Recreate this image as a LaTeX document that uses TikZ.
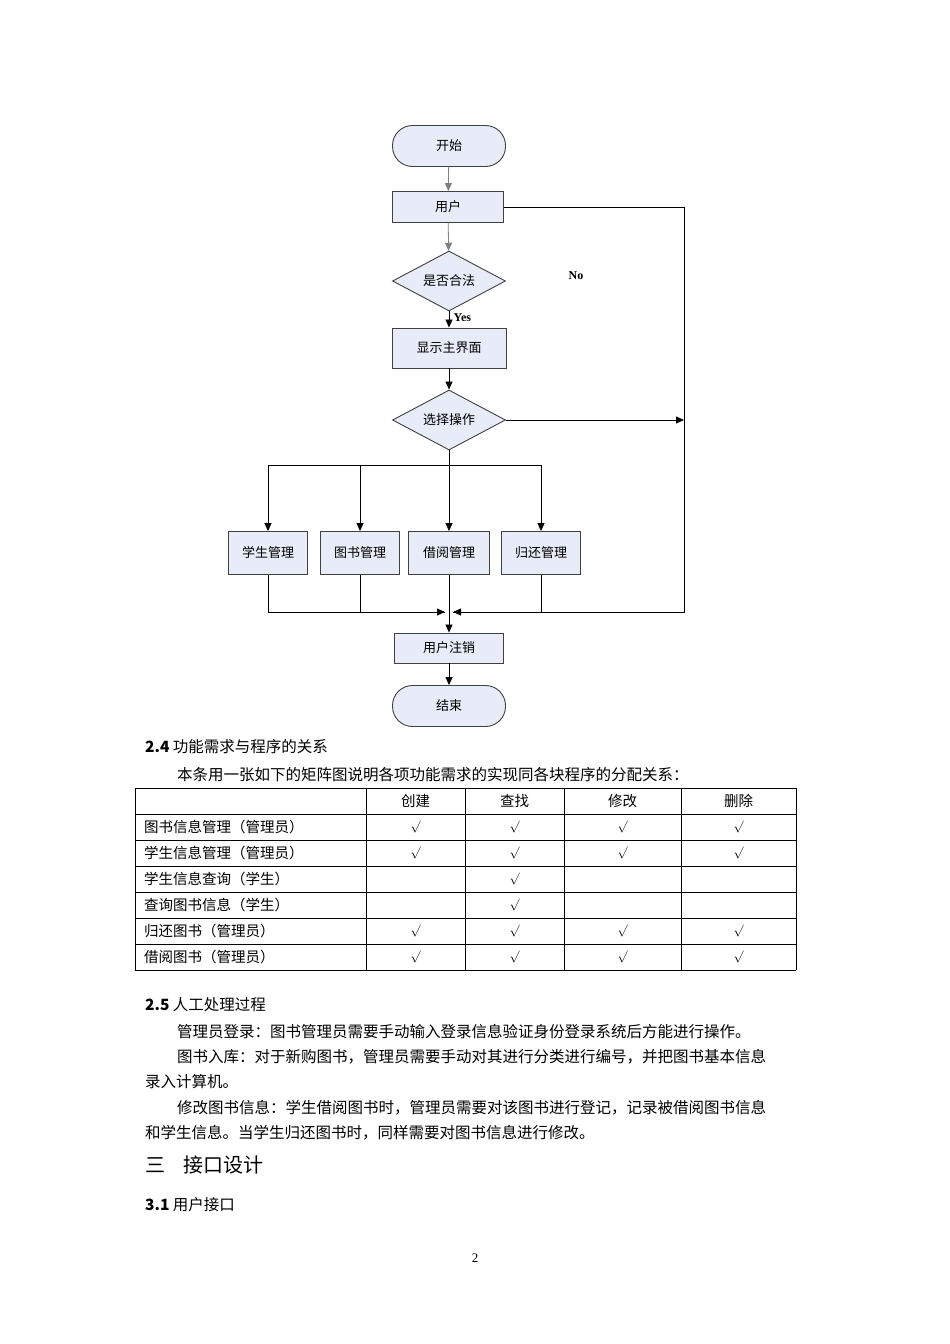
\documentclass[tikz,border=0pt]{standalone}
\usepackage{fontspec}
\setmainfont{Liberation Serif}
\newfontfamily\cjk{Noto Sans CJK SC}
\usetikzlibrary{shapes.geometric,arrows.meta}
\definecolor{boxfill}{HTML}{E8ECF8}
\definecolor{boxline}{HTML}{404040}
\tikzset{
 x=1pt,y=-1pt,
 fc/.style={draw=boxline,fill=boxfill,line width=0.9pt,font=\cjk\fontsize{13}{13}\selectfont,inner sep=0pt},
 term/.style={fc,rounded corners=20pt,minimum width=113pt,minimum height=41pt},
 proc/.style={fc,rectangle},
 dec/.style={fc,diamond,aspect=1.9,minimum width=113pt,minimum height=60pt},
 arr/.style={-{Triangle[length=8pt,width=7pt]},line width=0.8pt},
 ln/.style={line width=0.8pt},
 body/.style={font=\cjk\fontsize{15.5}{15.5}\selectfont,anchor=west,inner sep=0pt},
 cell/.style={font=\cjk\fontsize{14.5}{14.5}\selectfont,inner sep=0pt},
}
\begin{document}
\begin{tikzpicture}
\useasboundingbox (0,0) rectangle (950,1344);
% flowchart
\node[term] (start) at (449,146) {开始};
\node[proc,minimum width=111pt,minimum height=31pt] (user) at (448,207) {用户};
\node[dec] (legal) at (449,281) {是否合法};
\node[proc,minimum width=114pt,minimum height=40pt] (main) at (449,348) {显示主界面};
\node[dec] (sel) at (449,420) {选择操作};
\node[proc,minimum width=79pt,minimum height=43pt] (s1) at (268,553) {学生管理};
\node[proc,minimum width=79pt,minimum height=43pt] (s2) at (360,553) {图书管理};
\node[proc,minimum width=81pt,minimum height=43pt] (s3) at (449,553) {借阅管理};
\node[proc,minimum width=79pt,minimum height=43pt] (s4) at (541,553) {归还管理};
\node[proc,minimum width=109pt,minimum height=30pt] (logout) at (449,648) {用户注销};
\node[term] (end) at (449,706) {结束};
\coordinate (rt) at (684,207);
\coordinate (rs) at (684,420);
\coordinate (rb) at (684,612);
\coordinate (jn) at (449,612);
\coordinate (br) at (449,465);

\draw[arr,draw=gray] (start) -- (user);
\draw[arr,draw=gray] (user) -- (legal);
\draw[arr] (legal) -- (main) node[pos=0.4,right=1pt,font=\bfseries\fontsize{12}{12}\selectfont]{Yes};
\draw[arr] (main) -- (sel);
\draw[ln] (user.east) -- (rt) -- (rb) -- ([xshift=4pt]jn);
\draw[arr] ([xshift=14pt]jn) -- ([xshift=4pt]jn);
\draw[arr] (sel.east) -- (rs);
\node[font=\bfseries\fontsize{12}{12}\selectfont] at (576,276) {No};
\draw[ln] (sel.south) -- (br);
\draw[ln] (s1.north |- br) -- (s4.north |- br);
\draw[arr] (s1.north |- br) -- (s1.north);
\draw[arr] (s2.north |- br) -- (s2.north);
\draw[arr] (br) -- (s3.north);
\draw[arr] (s4.north |- br) -- (s4.north);
\draw[ln] (s1.south) -- (s1.south |- jn) -- ([xshift=-4pt]jn);
\draw[arr] ([xshift=-14pt]jn) -- ([xshift=-4pt]jn);
\draw[ln] (s2.south) -- (s2.south |- jn);
\draw[ln] (s4.south) -- (s4.south |- jn);
\draw[arr] (s3.south) -- (logout.north);
\draw[arr] (logout) -- (end);

% section 2.4
\node[body] (h24) at (145,747) {\textbf{2.4} 功能需求与程序的关系};
\node[body] (p24) at (177,775) {本条用一张如下的矩阵图说明各项功能需求的实现同各块程序的分配关系：};
% table
\foreach \y in {788,814,840,866,892,918,944,970} \draw[line width=0.8pt] (135,\y) -- (796,\y);
\foreach \x in {135,366,465,564,681,796} \draw[line width=0.8pt] (\x,788) -- (\x,970);
\node[cell] (c1) at (415.5,801) {创建};
\node[cell] (c2) at (514.5,801) {查找};
\node[cell] (c3) at (622.5,801) {修改};
\node[cell] (c4) at (738.5,801) {删除};
\foreach \t [count=\i] in {图书信息管理（管理员）,学生信息管理（管理员）,学生信息查询（学生）,查询图书信息（学生）,归还图书（管理员）,借阅图书（管理员）}
  \node[cell,anchor=west] (r\i) at (144,801+26*\i) {\t};
\foreach \r in {1,2,5,6} \foreach \x in {415.5,514.5,622.5,738.5}
  \node[cell,font=\fontsize{12}{12}\selectfont] at (\x,801+26*\r) {$\surd$};
\foreach \r in {3,4} \node[cell,font=\fontsize{12}{12}\selectfont] at (514.5,801+26*\r) {$\surd$};

% section 2.5
\node[body] (h25) at (145,1005) {\textbf{2.5} 人工处理过程};
\node[body] (l1) at (177,1032) {管理员登录：图书管理员需要手动输入登录信息验证身份登录系统后方能进行操作。};
\node[body] (l2) at (177,1057) {图书入库：对于新购图书，管理员需要手动对其进行分类进行编号，并把图书基本信息};
\node[body] (l3) at (145,1082) {录入计算机。};
\node[body] (l4) at (177,1108) {修改图书信息：学生借阅图书时，管理员需要对该图书进行登记，记录被借阅图书信息};
\node[body] (l5) at (145,1133) {和学生信息。当学生归还图书时，同样需要对图书信息进行修改。};
\node[body,font=\cjk\fontsize{20}{20}\selectfont] (h3) at (145,1165) {三\hspace{18pt}接口设计};
\node[body] (h31) at (145,1205) {\textbf{3.1} 用户接口};
\node[font=\fontsize{13}{13}\selectfont] (pg) at (475,1258) {2};
\end{tikzpicture}
\end{document}
